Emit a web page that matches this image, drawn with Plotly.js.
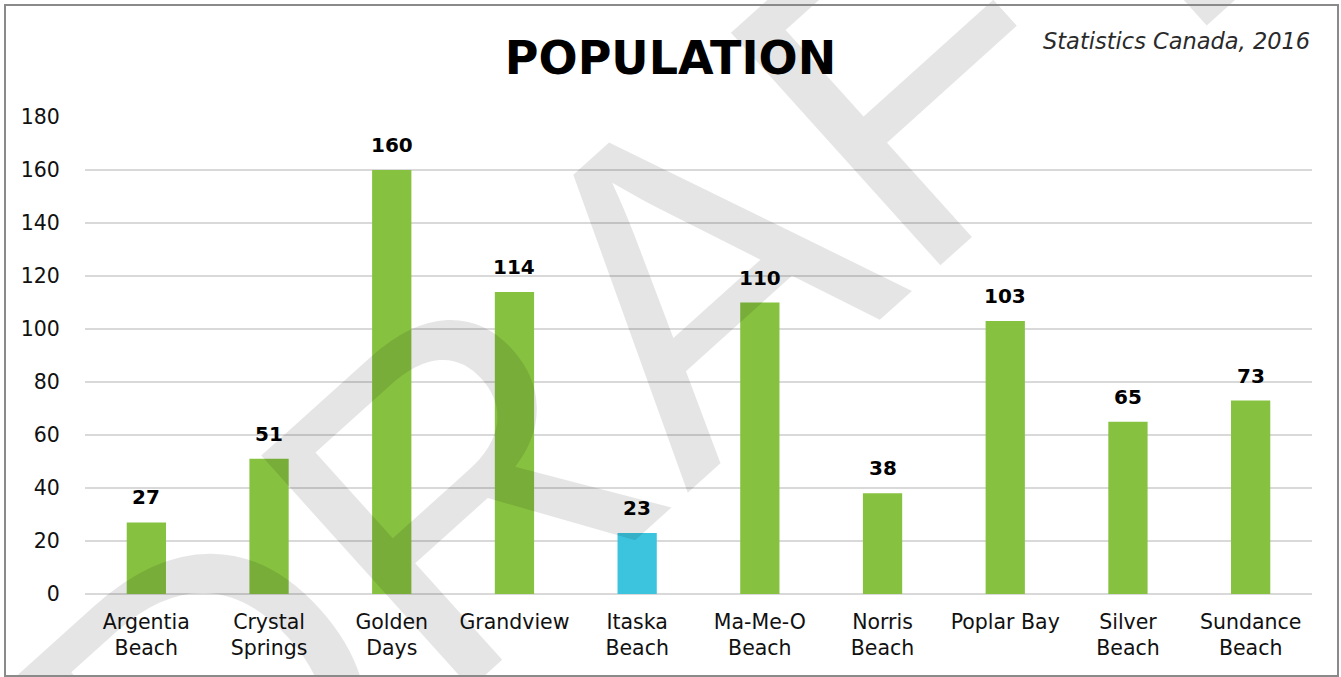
<!DOCTYPE html>
<html>
<head>
<meta charset="utf-8">
<script src="https://cdn.plot.ly/plotly-3.0.1.min.js"></script>
<style>
  html, body { margin: 0; padding: 0; background: #fff; }
  #chart { position: absolute; left: 0; top: 0; width: 1341px; height: 677px; }
  #frame { position: absolute; left: 4px; top: 4px; width: 1335px; height: 673px; box-sizing: border-box; border: 2px solid #8a8a8a; pointer-events: none; }
</style>
</head>
<body>
<div id="chart"></div>
<div id="frame"></div>
<script>
const categories = ["Argentia<br>Beach", "Crystal<br>Springs", "Golden<br>Days", "Grandview", "Itaska<br>Beach", "Ma-Me-O<br>Beach", "Norris<br>Beach", "Poplar Bay", "Silver<br>Beach", "Sundance<br>Beach"];
const population = [27, 51, 160, 114, 23, 110, 38, 103, 65, 73];
const highlighted = "Itaska<br>Beach";
const yTicks = [0, 20, 40, 60, 80, 100, 120, 140, 160, 180];

const GREEN = "#86c140";
const BLUE = "#3cc4de";
const FONT = "DejaVu Sans";

const barColors = categories.map(c => c === highlighted ? BLUE : GREEN);

const valueLabels = categories.map((c, i) => ({
  x: c, y: population[i], xref: "x", yref: "y",
  text: "<b>" + population[i] + "</b>", showarrow: false,
  yanchor: "bottom", yshift: 11,
  font: { family: FONT, size: 20, color: "#000" }
}));

const watermark = {
  xref: "paper", yref: "paper", x: 0.466, y: 0.6,
  text: "DRAFT", showarrow: false, textangle: -42,
  xanchor: "center", yanchor: "middle",
  font: { family: "Liberation Sans", size: 455, color: "rgba(0,0,0,0.1)" }
};

const subtitle = {
  xref: "paper", yref: "paper", x: 1.0, y: 1.16,
  xanchor: "right", yanchor: "middle",
  text: "<i>Statistics Canada, 2016</i>", showarrow: false,
  font: { family: FONT, size: 22.5, color: "#2a2a2a" }
};

const data = [{
  type: "bar",
  x: categories,
  y: population,
  marker: { color: barColors },
  hoverinfo: "x+y"
}];

const layout = {
  width: 1341, height: 677,
  margin: { l: 85, r: 29, t: 117, b: 83 },
  paper_bgcolor: "#fff", plot_bgcolor: "#fff",
  bargap: 0.68,
  showlegend: false,
  title: {
    text: "<b>POPULATION</b>",
    x: 0.5, xanchor: "center", y: 0.915, yanchor: "middle",
    font: { family: FONT, size: 46, color: "#000" }
  },
  xaxis: {
    type: "category",
    tickfont: { family: FONT, size: 20.5, color: "#111" },
    ticks: "outside", ticklen: 9, tickcolor: "rgba(0,0,0,0)",
    showgrid: false, zeroline: false, showline: false
  },
  yaxis: {
    range: [0, 180],
    tickvals: yTicks,
    ticktext: yTicks.map(String),
    tickfont: { family: FONT, size: 20.5, color: "#111" },
    ticks: "outside", ticklen: 20, tickcolor: "rgba(0,0,0,0)",
    showgrid: true, gridcolor: "#d9d9d9", gridwidth: 2,
    zeroline: true, zerolinecolor: "#d9d9d9", zerolinewidth: 2,
    showline: false
  },
  annotations: valueLabels.concat([subtitle, watermark])
};

Plotly.newPlot("chart", data, layout, { displayModeBar: false, staticPlot: true });
</script>
</body>
</html>
